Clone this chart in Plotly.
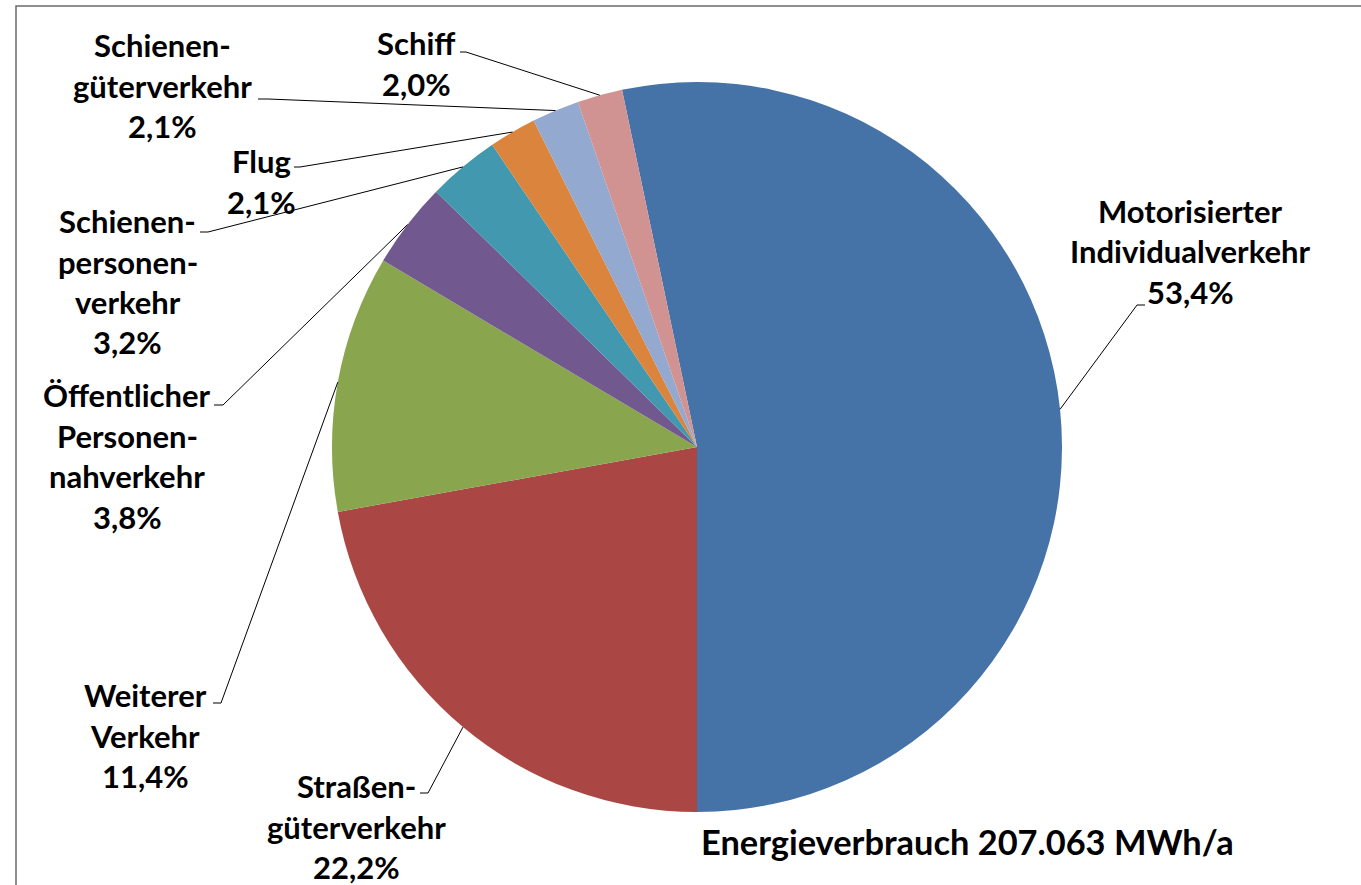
import math
import plotly.graph_objects as go

# ---------------- data ----------------
categories = [
    "Motorisierter Individualverkehr",
    "Straßengüterverkehr",
    "Weiterer Verkehr",
    "Öffentlicher Personennahverkehr",
    "Schienenpersonenverkehr",
    "Flug",
    "Schienengüterverkehr",
    "Schiff",
]
label_lines = [
    ["Motorisierter", "Individualverkehr"],
    ["Straßen-", "güterverkehr"],
    ["Weiterer", "Verkehr"],
    ["Öffentlicher", "Personen-", "nahverkehr"],
    ["Schienen-", "personen-", "verkehr"],
    ["Flug"],
    ["Schienen-", "güterverkehr"],
    ["Schiff"],
]
shares = [53.4, 22.2, 11.4, 3.8, 3.2, 2.1, 2.1, 2.0]
colors = ["#4572A7", "#AA4643", "#89A54E", "#71588F",
          "#4198AF", "#DB843D", "#93A9CF", "#D19392"]
total_label = "Energieverbrauch 207.063 MWh/a"

# ---------------- layout constants (pixels) ----------------
W, H = 1361, 885
CX, CY, R = 697, 447, 365
FONT = "Lato, 'Open Sans', sans-serif"
LABEL_SIZE = 31
LINE_GAP = 40.5
TEXT_DY = -2
# center x, first-line y, leader anchor x, anchor y, elbow x
label_layout = [
    (1190, 213, 1145, 305, 1137),
    (356, 788, 420, 793, 428),
    (145, 697, 213, 703, 221),
    (127, 397, 214, 405, 223),
    (128, 223, 200, 232, 208),
    (261, 163, 294, 167, 300),
    (162, 47, 258, 99, 268),
    (416, 45, 460, 52, 466),
]


def px(x):
    return x / W


def py(y):
    return 1 - y / H


total = sum(shares)
# first slice ends exactly at 6 o'clock, as in the reference
rotation = 180 - shares[0] / total * 360

fig = go.Figure(go.Pie(
    labels=categories,
    values=shares,
    sort=False,
    direction="clockwise",
    rotation=rotation,
    marker=dict(colors=colors, line=dict(width=0)),
    textinfo="none",
    hoverinfo="label+percent",
    showlegend=False,
    domain=dict(x=[px(CX - R), px(CX + R)], y=[py(CY + R), py(CY - R)]),
))

annotations = []
shapes = []

# frame (left and top edges visible)
shapes.append(dict(type="rect", xref="paper", yref="paper",
                   x0=px(16), x1=px(W + 20), y0=py(H + 20), y1=py(6),
                   line=dict(color="#6b6b6b", width=1.5)))

cum = 0.0
for i, v in enumerate(shares):
    mid = rotation + (cum + v / 2) / total * 360
    cum += v
    a = math.radians(mid)
    ex, ey = CX + R * math.sin(a), CY - R * math.cos(a)
    cxl, y0, ax, ay, elx = label_layout[i]
    lines = label_lines[i] + [f"{v:.1f}".replace(".", ",") + "%"]
    for k, t in enumerate(lines):
        annotations.append(dict(
            x=px(cxl), y=py(y0 + TEXT_DY + k * LINE_GAP), xref="paper", yref="paper",
            text=t, showarrow=False, xanchor="center", yanchor="middle",
            font=dict(family=FONT, size=LABEL_SIZE, color="black", weight="bold")))
    path = (f"M {px(ex)} {py(ey)} L {px(elx)} {py(ay)} L {px(ax)} {py(ay)}")
    shapes.append(dict(type="path", xref="paper", yref="paper", path=path,
                       line=dict(color="black", width=1)))

annotations.append(dict(
    x=px(967), y=py(843 + TEXT_DY), xref="paper", yref="paper",
    text=total_label, showarrow=False, xanchor="center", yanchor="middle",
    font=dict(family=FONT, size=34.4, color="black", weight="bold")))

fig.update_layout(
    width=W, height=H,
    margin=dict(l=0, r=0, t=0, b=0),
    paper_bgcolor="white", plot_bgcolor="white",
    annotations=annotations, shapes=shapes,
)

fig.write_html("out.html", config={"displayModeBar": False},
               post_script="document.body.style.margin='0';document.body.style.overflow='hidden';")
